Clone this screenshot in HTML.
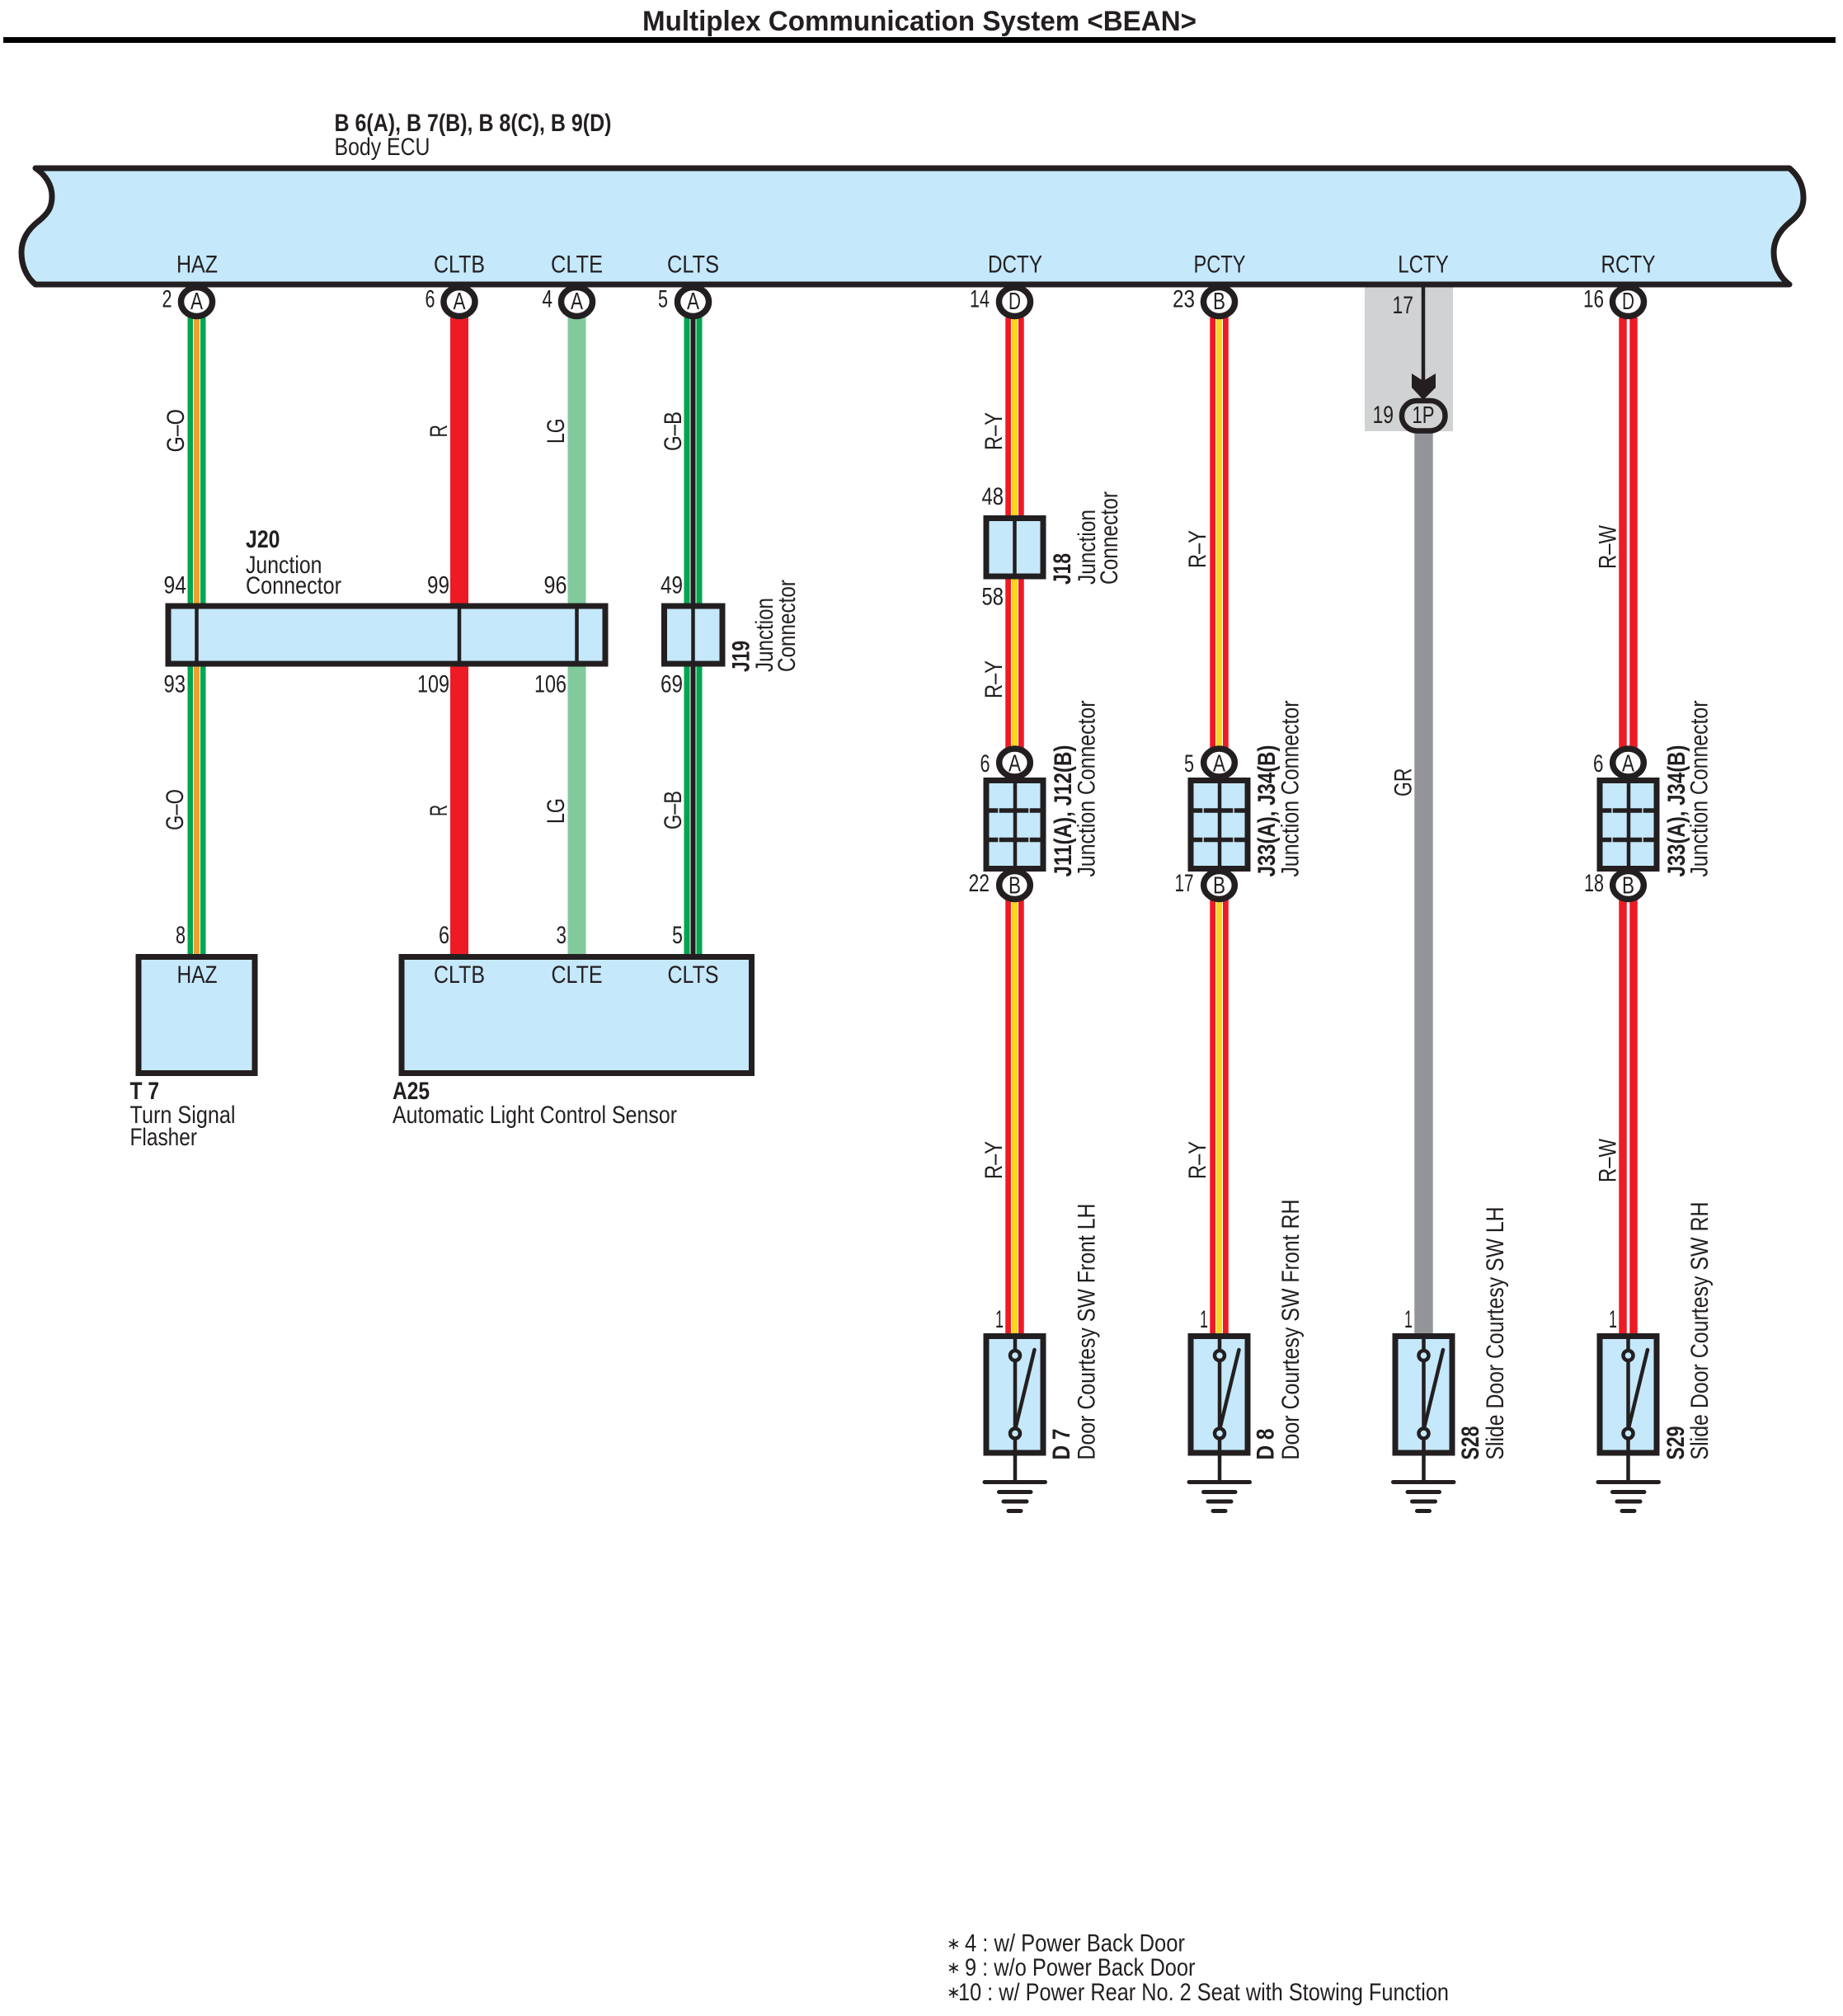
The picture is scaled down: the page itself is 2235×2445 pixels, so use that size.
<!DOCTYPE html>
<html><head><meta charset="utf-8"><style>
html,body{margin:0;padding:0;background:#fff}
svg{display:block}
text{font-family:"Liberation Sans",sans-serif;font-size:30px;fill:#231f20}
.b{font-weight:bold}
.n{font-size:29.500px}
.m{text-anchor:middle}
.e{text-anchor:end}
.p{font-size:29px;text-anchor:middle}
.box{fill:#c5e8fb;stroke:#231f20;stroke-width:7}
.in{stroke:#231f20;stroke-width:4.5;fill:none}
.pin{fill:#fff;stroke:#231f20;stroke-width:7.500}
.sw{fill:#c5e8fb;stroke:#231f20;stroke-width:4.5}
.gnd{stroke:#231f20;stroke-width:5;stroke-linecap:round}
</style></head><body>
<svg xmlns="http://www.w3.org/2000/svg" width="2235" height="2445" viewBox="0 0 2235 2445">
<rect width="2235" height="2445" fill="#fff"/>
<!-- Title -->
<text class="b" x="779" y="37" style="font-size:34px" textLength="672" lengthAdjust="spacingAndGlyphs">Multiplex Communication System &lt;BEAN&gt;</text>
<rect x="4" y="45" width="2222" height="7" fill="#000"/>
<!-- ECU -->
<text class="b" x="405.5" y="159" textLength="336" lengthAdjust="spacingAndGlyphs">B 6(A), B 7(B), B 8(C), B 9(D)</text>
<text x="405.5" y="188" textLength="116" lengthAdjust="spacingAndGlyphs">Body ECU</text>
<path d="M43 204 L2170 204 C2182 214 2187 226 2187 240 C2187 254 2180 262 2170 270 C2158 280 2151 292 2151 306 C2151 322 2158 336 2170 345 L43 345 C32 336 26 322 26 306 C26 290 34 278 47 268 C58 259 63 252 63 238 C63 224 55 212 43 204 Z" fill="#c5e8fb" stroke="#231f20" stroke-width="7" stroke-linejoin="round"/>
<g>
<text class="m" x="239" y="330.500" textLength="50" lengthAdjust="spacingAndGlyphs">HAZ</text>
<text class="m" x="557" y="330.500" textLength="62" lengthAdjust="spacingAndGlyphs">CLTB</text>
<text class="m" x="699.500" y="330.500" textLength="63" lengthAdjust="spacingAndGlyphs">CLTE</text>
<text class="m" x="840.500" y="330.500" textLength="63" lengthAdjust="spacingAndGlyphs">CLTS</text>
<text class="m" x="1231" y="330.500" textLength="66" lengthAdjust="spacingAndGlyphs">DCTY</text>
<text class="m" x="1479" y="330.500" textLength="63" lengthAdjust="spacingAndGlyphs">PCTY</text>
<text class="m" x="1726" y="330.500" textLength="61.500" lengthAdjust="spacingAndGlyphs">LCTY</text>
<text class="m" x="1974.500" y="330.500" textLength="66" lengthAdjust="spacingAndGlyphs">RCTY</text>
</g>
<!-- Grey LCTY zone -->
<rect x="1655" y="348.500" width="107" height="174.500" fill="#d0d2d3"/>
<!-- Wires -->
<g fill="none">
<path d="M238.500 385V1160" stroke="#00a651" stroke-width="22"/><path d="M238.500 385V1160" stroke="#fff" stroke-width="9"/><path d="M238.500 385V1160" stroke="#f0a02e" stroke-width="7"/>
<path d="M557 385V1160" stroke="#ed1c24" stroke-width="22"/>
<path d="M699.500 385V1160" stroke="#82ca9c" stroke-width="22"/>
<path d="M840.500 385V1160" stroke="#00a651" stroke-width="22"/><path d="M840.500 385V1160" stroke="#fff" stroke-width="8"/><path d="M840.500 385V1160" stroke="#231f20" stroke-width="6"/>
<path d="M1230.500 385V1618" stroke="#ed1c24" stroke-width="22.500"/><path d="M1230.500 385V1618" stroke="#fff" stroke-width="9"/><path d="M1230.500 385V1618" stroke="#ffd51e" stroke-width="7"/>
<path d="M1478.500 385V1618" stroke="#ed1c24" stroke-width="22.500"/><path d="M1478.500 385V1618" stroke="#fff" stroke-width="9"/><path d="M1478.500 385V1618" stroke="#ffd51e" stroke-width="7"/>
<path d="M1974.500 385V1618" stroke="#ed1c24" stroke-width="22.500"/><path d="M1974.500 385V1618" stroke="#fff" stroke-width="3.500"/>
<path d="M1726.500 522V1617" stroke="#939598" stroke-width="22.400"/>
</g>
<!-- LCTY arrow -->
<path d="M1726 347V465" stroke="#231f20" stroke-width="4.500"/>
<path d="M1712 453L1726 462L1741 453L1741 470L1726 485L1712 470Z" fill="#231f20"/>
<rect x="1700" y="486" width="52.500" height="36.500" rx="18" fill="#d0d2d3" stroke="#231f20" stroke-width="6.500"/>
<text class="p" x="1726" y="513" textLength="27" lengthAdjust="spacingAndGlyphs">1P</text>
<text class="n" x="1688.500" y="380" textLength="25.500" lengthAdjust="spacingAndGlyphs">17</text>
<text class="n" x="1664.500" y="513" textLength="25.500" lengthAdjust="spacingAndGlyphs">19</text>
<!-- ECU pins -->
<g>
<ellipse class="pin" cx="238.500" cy="366" rx="19" ry="17.500"/>
<ellipse class="pin" cx="557" cy="366" rx="19" ry="17.500"/>
<ellipse class="pin" cx="699.500" cy="366" rx="19" ry="17.500"/>
<ellipse class="pin" cx="840.500" cy="366" rx="19" ry="17.500"/>
<ellipse class="pin" cx="1230.500" cy="366" rx="19" ry="17.500"/>
<ellipse class="pin" cx="1478.500" cy="366" rx="19" ry="17.500"/>
<ellipse class="pin" cx="1974.500" cy="366" rx="19" ry="17.500"/>
</g>
<g>
<text class="p" x="238.500" y="375" textLength="15" lengthAdjust="spacingAndGlyphs">A</text>
<text class="p" x="557" y="375" textLength="15" lengthAdjust="spacingAndGlyphs">A</text>
<text class="p" x="699.500" y="375" textLength="15" lengthAdjust="spacingAndGlyphs">A</text>
<text class="p" x="840.500" y="375" textLength="15" lengthAdjust="spacingAndGlyphs">A</text>
<text class="p" x="1230.500" y="375" textLength="15" lengthAdjust="spacingAndGlyphs">D</text>
<text class="p" x="1478.500" y="375" textLength="15" lengthAdjust="spacingAndGlyphs">B</text>
<text class="p" x="1974.500" y="375" textLength="15" lengthAdjust="spacingAndGlyphs">D</text>
</g>
<g>
<text class="n" x="196.500" y="372.500" textLength="12" lengthAdjust="spacingAndGlyphs">2</text>
<text class="n" x="515.500" y="372.500" textLength="12" lengthAdjust="spacingAndGlyphs">6</text>
<text class="n" x="657.500" y="372.500" textLength="12.500" lengthAdjust="spacingAndGlyphs">4</text>
<text class="n" x="798" y="372.500" textLength="12" lengthAdjust="spacingAndGlyphs">5</text>
<text class="n" x="1176" y="372.500" textLength="24" lengthAdjust="spacingAndGlyphs">14</text>
<text class="n" x="1422" y="372.500" textLength="27" lengthAdjust="spacingAndGlyphs">23</text>
<text class="n" x="1920" y="372.500" textLength="25" lengthAdjust="spacingAndGlyphs">16</text>
</g>
<!-- J20 -->
<rect class="box" x="204" y="735" width="530" height="70"/>
<path class="in" d="M238.500 735V805M557 735V805M699.500 735V805"/>
<text class="b" x="298" y="664" textLength="41.500" lengthAdjust="spacingAndGlyphs">J20</text>
<text x="298" y="695" textLength="92.500" lengthAdjust="spacingAndGlyphs">Junction</text>
<text x="298" y="720" textLength="116" lengthAdjust="spacingAndGlyphs">Connector</text>
<!-- J19 -->
<rect class="box" x="805.500" y="735" width="70.500" height="70"/>
<path class="in" d="M840.500 735V805"/>
<text class="b" transform="translate(908.500,815) rotate(-90)" textLength="38" lengthAdjust="spacingAndGlyphs">J19</text>
<text transform="translate(937,815) rotate(-90)" textLength="90" lengthAdjust="spacingAndGlyphs">Junction</text>
<text transform="translate(964,815) rotate(-90)" textLength="112" lengthAdjust="spacingAndGlyphs">Connector</text>
<!-- J18 -->
<rect class="box" x="1196" y="628.500" width="69" height="70.500"/>
<path class="in" d="M1230.500 628V699"/>
<text class="b" transform="translate(1298,709) rotate(-90)" textLength="38" lengthAdjust="spacingAndGlyphs">J18</text>
<text transform="translate(1328,709) rotate(-90)" textLength="91" lengthAdjust="spacingAndGlyphs">Junction</text>
<text transform="translate(1355,709) rotate(-90)" textLength="113" lengthAdjust="spacingAndGlyphs">Connector</text>
<!-- Numbers at J20/J19/J18 -->
<g>
<text class="n" x="198.500" y="719.500" textLength="27.500" lengthAdjust="spacingAndGlyphs">94</text>
<text class="n" x="518" y="719.500" textLength="27" lengthAdjust="spacingAndGlyphs">99</text>
<text class="n" x="659.500" y="719.500" textLength="28" lengthAdjust="spacingAndGlyphs">96</text>
<text class="n" x="801" y="719.500" textLength="27" lengthAdjust="spacingAndGlyphs">49</text>
<text class="n" x="198.500" y="839.500" textLength="26.500" lengthAdjust="spacingAndGlyphs">93</text>
<text class="n" x="506" y="839.500" textLength="39" lengthAdjust="spacingAndGlyphs">109</text>
<text class="n" x="648" y="839.500" textLength="39" lengthAdjust="spacingAndGlyphs">106</text>
<text class="n" x="801" y="839.500" textLength="27" lengthAdjust="spacingAndGlyphs">69</text>
<text class="n" x="1190.500" y="612" textLength="26.500" lengthAdjust="spacingAndGlyphs">48</text>
<text class="n" x="1190.500" y="733.500" textLength="26.500" lengthAdjust="spacingAndGlyphs">58</text>
<text class="n" x="213" y="1144" textLength="12" lengthAdjust="spacingAndGlyphs">8</text>
<text class="n" x="532" y="1144" textLength="13" lengthAdjust="spacingAndGlyphs">6</text>
<text class="n" x="674.500" y="1144" textLength="12.500" lengthAdjust="spacingAndGlyphs">3</text>
<text class="n" x="815" y="1144" textLength="13" lengthAdjust="spacingAndGlyphs">5</text>
</g>
<!-- T7 / A25 -->
<rect class="box" x="168" y="1160.500" width="141" height="141"/>
<rect class="box" x="487" y="1160.500" width="424.500" height="141"/>
<text class="m" x="239" y="1192" textLength="49" lengthAdjust="spacingAndGlyphs">HAZ</text>
<text class="m" x="557" y="1192" textLength="62" lengthAdjust="spacingAndGlyphs">CLTB</text>
<text class="m" x="699.500" y="1192" textLength="62" lengthAdjust="spacingAndGlyphs">CLTE</text>
<text class="m" x="840.500" y="1192" textLength="62" lengthAdjust="spacingAndGlyphs">CLTS</text>
<text class="b" x="157.500" y="1333" textLength="35.500" lengthAdjust="spacingAndGlyphs">T 7</text>
<text x="157.500" y="1362" textLength="128" lengthAdjust="spacingAndGlyphs">Turn Signal</text>
<text x="157.500" y="1389" textLength="81.500" lengthAdjust="spacingAndGlyphs">Flasher</text>
<text class="b" x="476" y="1333" textLength="45" lengthAdjust="spacingAndGlyphs">A25</text>
<text x="476" y="1362" textLength="345" lengthAdjust="spacingAndGlyphs">Automatic Light Control Sensor</text>
<!-- Wire labels -->
<g>
<text transform="translate(223,548.500) rotate(-90)" textLength="52.500" lengthAdjust="spacingAndGlyphs">G–O</text>
<text transform="translate(542,530.500) rotate(-90)" textLength="15.500" lengthAdjust="spacingAndGlyphs">R</text>
<text transform="translate(684,538) rotate(-90)" textLength="30.500" lengthAdjust="spacingAndGlyphs">LG</text>
<text transform="translate(826,547) rotate(-90)" textLength="48" lengthAdjust="spacingAndGlyphs">G–B</text>
<text transform="translate(222,1007) rotate(-90)" textLength="50" lengthAdjust="spacingAndGlyphs">G–O</text>
<text transform="translate(542,990) rotate(-90)" textLength="14" lengthAdjust="spacingAndGlyphs">R</text>
<text transform="translate(684,999) rotate(-90)" textLength="31" lengthAdjust="spacingAndGlyphs">LG</text>
<text transform="translate(826,1006) rotate(-90)" textLength="47" lengthAdjust="spacingAndGlyphs">G–B</text>
<text transform="translate(1215,546) rotate(-90)" textLength="46" lengthAdjust="spacingAndGlyphs">R–Y</text>
<text transform="translate(1215,847) rotate(-90)" textLength="46" lengthAdjust="spacingAndGlyphs">R–Y</text>
<text transform="translate(1215,1430) rotate(-90)" textLength="46" lengthAdjust="spacingAndGlyphs">R–Y</text>
<text transform="translate(1462,689) rotate(-90)" textLength="46" lengthAdjust="spacingAndGlyphs">R–Y</text>
<text transform="translate(1462,1430) rotate(-90)" textLength="46" lengthAdjust="spacingAndGlyphs">R–Y</text>
<text transform="translate(1959.500,690) rotate(-90)" textLength="53" lengthAdjust="spacingAndGlyphs">R–W</text>
<text transform="translate(1959.500,1434) rotate(-90)" textLength="53" lengthAdjust="spacingAndGlyphs">R–W</text>
<text transform="translate(1711.500,966) rotate(-90)" textLength="34.500" lengthAdjust="spacingAndGlyphs">GR</text>
</g>
<!-- Joint connectors -->
<g>
<rect class="box" x="1196" y="946.500" width="69" height="107"/>
<path d="M1231 946V1054" stroke="#231f20" stroke-width="4.500"/>
<path d="M1196 983H1265M1196 1018.500H1265" stroke="#231f20" stroke-width="5.500"/>
<path d="M1211 980V986M1248 980V986M1211 1015.500V1021.500M1248 1015.500V1021.500" stroke="#c5e8fb" stroke-width="1.500"/>
<rect class="box" x="1444" y="946.500" width="69" height="107"/>
<path d="M1479 946V1054" stroke="#231f20" stroke-width="4.500"/>
<path d="M1444 983H1513M1444 1018.500H1513" stroke="#231f20" stroke-width="5.500"/>
<path d="M1459 980V986M1496 980V986M1459 1015.500V1021.500M1496 1015.500V1021.500" stroke="#c5e8fb" stroke-width="1.500"/>
<rect class="box" x="1940" y="946.500" width="69" height="107"/>
<path d="M1975 946V1054" stroke="#231f20" stroke-width="4.500"/>
<path d="M1940 983H2009M1940 1018.500H2009" stroke="#231f20" stroke-width="5.500"/>
<path d="M1955 980V986M1992 980V986M1955 1015.500V1021.500M1992 1015.500V1021.500" stroke="#c5e8fb" stroke-width="1.500"/>
</g>
<g>
<ellipse class="pin" cx="1230.500" cy="925" rx="18.800" ry="17"/>
<ellipse class="pin" cx="1230.500" cy="1073.500" rx="18.800" ry="17"/>
<ellipse class="pin" cx="1478.500" cy="925" rx="18.800" ry="17"/>
<ellipse class="pin" cx="1478.500" cy="1073.500" rx="18.800" ry="17"/>
<ellipse class="pin" cx="1974.500" cy="925" rx="18.800" ry="17"/>
<ellipse class="pin" cx="1974.500" cy="1073.500" rx="18.800" ry="17"/>
<text class="p" x="1230.500" y="935.500" textLength="15" lengthAdjust="spacingAndGlyphs">A</text>
<text class="p" x="1230.500" y="1083.500" textLength="15" lengthAdjust="spacingAndGlyphs">B</text>
<text class="p" x="1478.500" y="935.500" textLength="15" lengthAdjust="spacingAndGlyphs">A</text>
<text class="p" x="1478.500" y="1083.500" textLength="15" lengthAdjust="spacingAndGlyphs">B</text>
<text class="p" x="1974.500" y="935.500" textLength="15" lengthAdjust="spacingAndGlyphs">A</text>
<text class="p" x="1974.500" y="1083.500" textLength="15" lengthAdjust="spacingAndGlyphs">B</text>
<text class="n" x="1188.500" y="936" textLength="12" lengthAdjust="spacingAndGlyphs">6</text>
<text class="n" x="1174.500" y="1081" textLength="25.500" lengthAdjust="spacingAndGlyphs">22</text>
<text class="n" x="1436" y="936" textLength="12" lengthAdjust="spacingAndGlyphs">5</text>
<text class="n" x="1424.500" y="1081" textLength="23" lengthAdjust="spacingAndGlyphs">17</text>
<text class="n" x="1932" y="936" textLength="12.500" lengthAdjust="spacingAndGlyphs">6</text>
<text class="n" x="1921" y="1081" textLength="24" lengthAdjust="spacingAndGlyphs">18</text>
</g>
<!-- Joint labels -->
<text class="b" transform="translate(1299,1063.500) rotate(-90)" textLength="160" lengthAdjust="spacingAndGlyphs">J11(A), J12(B)</text>
<text transform="translate(1327.500,1063.500) rotate(-90)" textLength="214" lengthAdjust="spacingAndGlyphs">Junction Connector</text>
<text class="b" transform="translate(1546,1063.500) rotate(-90)" textLength="160" lengthAdjust="spacingAndGlyphs">J33(A), J34(B)</text>
<text transform="translate(1574.500,1063.500) rotate(-90)" textLength="214" lengthAdjust="spacingAndGlyphs">Junction Connector</text>
<text class="b" transform="translate(2043,1063.500) rotate(-90)" textLength="160" lengthAdjust="spacingAndGlyphs">J33(A), J34(B)</text>
<text transform="translate(2070.500,1063.500) rotate(-90)" textLength="214" lengthAdjust="spacingAndGlyphs">Junction Connector</text>
<!-- Switches -->
<g>
<rect class="box" x="1196" y="1620.500" width="69" height="141.500"/>
<path class="in" d="M1231 1620V1797"/>
<ellipse class="sw" cx="1231" cy="1644" rx="6" ry="6"/>
<ellipse class="sw" cx="1231" cy="1738.500" rx="6" ry="6"/>
<path class="in" stroke-linecap="round" d="M1231.500 1732L1254.500 1637"/>
<path class="gnd" d="M1194 1797.500H1267.500M1211.500 1809.500H1250M1217 1821H1245M1223 1832.500H1238"/>
<rect class="box" x="1444" y="1620.500" width="69" height="141.500"/>
<path class="in" d="M1479 1620V1797"/>
<ellipse class="sw" cx="1479" cy="1644" rx="6" ry="6"/>
<ellipse class="sw" cx="1479" cy="1738.500" rx="6" ry="6"/>
<path class="in" stroke-linecap="round" d="M1479.500 1732L1502.500 1637"/>
<path class="gnd" d="M1442 1797.500H1515.500M1459.500 1809.500H1498M1465 1821H1493M1471 1832.500H1486"/>
<rect class="box" x="1692" y="1620.500" width="69" height="141.500"/>
<path class="in" d="M1726.500 1620V1797"/>
<ellipse class="sw" cx="1726.500" cy="1644" rx="6" ry="6"/>
<ellipse class="sw" cx="1726.500" cy="1738.500" rx="6" ry="6"/>
<path class="in" stroke-linecap="round" d="M1727 1732L1750 1637"/>
<path class="gnd" d="M1689.500 1797.500H1763M1707 1809.500H1745.500M1712.500 1821H1740.500M1718.500 1832.500H1733.500"/>
<rect class="box" x="1940" y="1620.500" width="69" height="141.500"/>
<path class="in" d="M1974.500 1620V1797"/>
<ellipse class="sw" cx="1974.500" cy="1644" rx="6" ry="6"/>
<ellipse class="sw" cx="1974.500" cy="1738.500" rx="6" ry="6"/>
<path class="in" stroke-linecap="round" d="M1975 1732L1998 1637"/>
<path class="gnd" d="M1938 1797.500H2011.500M1955.500 1809.500H1994M1961 1821H1989M1967 1832.500H1982"/>
</g>
<g>
<text class="n" x="1207" y="1610" textLength="10" lengthAdjust="spacingAndGlyphs">1</text>
<text class="n" x="1455" y="1610" textLength="10" lengthAdjust="spacingAndGlyphs">1</text>
<text class="n" x="1703" y="1610" textLength="10" lengthAdjust="spacingAndGlyphs">1</text>
<text class="n" x="1951" y="1610" textLength="10" lengthAdjust="spacingAndGlyphs">1</text>
</g>
<text class="b" transform="translate(1297,1770.500) rotate(-90)" textLength="38" lengthAdjust="spacingAndGlyphs">D 7</text>
<text transform="translate(1327.500,1770.500) rotate(-90)" textLength="311" lengthAdjust="spacingAndGlyphs">Door Courtesy SW Front LH</text>
<text class="b" transform="translate(1544.500,1770.500) rotate(-90)" textLength="38" lengthAdjust="spacingAndGlyphs">D 8</text>
<text transform="translate(1575,1770.500) rotate(-90)" textLength="316" lengthAdjust="spacingAndGlyphs">Door Courtesy SW Front RH</text>
<text class="b" transform="translate(1793,1770.500) rotate(-90)" textLength="41" lengthAdjust="spacingAndGlyphs">S28</text>
<text transform="translate(1823,1770.500) rotate(-90)" textLength="307" lengthAdjust="spacingAndGlyphs">Slide Door Courtesy SW LH</text>
<text class="b" transform="translate(2042,1770.500) rotate(-90)" textLength="41" lengthAdjust="spacingAndGlyphs">S29</text>
<text transform="translate(2071,1770.500) rotate(-90)" textLength="313" lengthAdjust="spacingAndGlyphs">Slide Door Courtesy SW RH</text>
<!-- Footnotes -->
<g>
<text x="1148" y="2364" style="font-family:'DejaVu Sans',sans-serif;font-size:20px">∗</text>
<text x="1148" y="2393" style="font-family:'DejaVu Sans',sans-serif;font-size:20px">∗</text>
<text x="1148" y="2423" style="font-family:'DejaVu Sans',sans-serif;font-size:20px">∗</text>
<text x="1170" y="2366.500" textLength="267" lengthAdjust="spacingAndGlyphs">4 : w/ Power Back Door</text>
<text x="1170" y="2396" textLength="279.500" lengthAdjust="spacingAndGlyphs">9 : w/o Power Back Door</text>
<text x="1162" y="2426" textLength="595" lengthAdjust="spacingAndGlyphs">10 : w/ Power Rear No. 2 Seat with Stowing Function</text>
</g>
</svg>
</body></html>
